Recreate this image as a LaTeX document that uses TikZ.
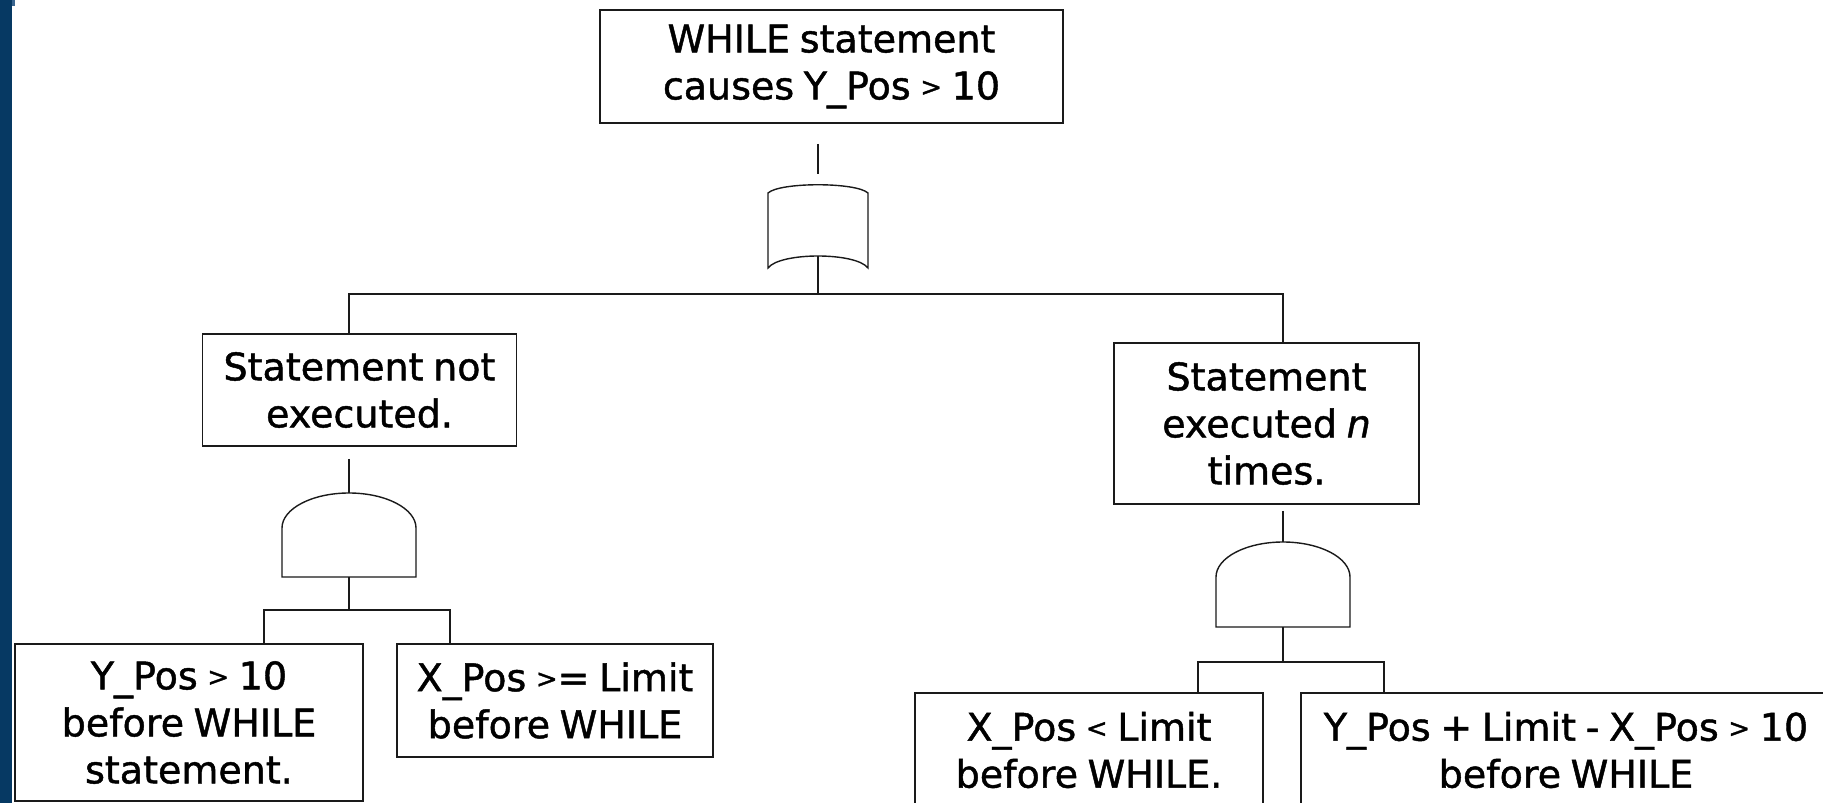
\documentclass[tikz,border=0pt]{standalone}
\usepackage{fontspec}
\setmainfont{DejaVu Sans}[WordSpace=0.8,FakeBold=1.2]
\definecolor{stripblue}{HTML}{063963}
\definecolor{notchblue}{HTML}{3A6690}
\definecolor{ink}{HTML}{1A1A1A}
% small comparison signs, kept on the math axis
\newcommand{\relgt}{\raisebox{3.5pt}{\fontsize{26}{26}\selectfont>}}
\newcommand{\rellt}{\raisebox{3.5pt}{\fontsize{26}{26}\selectfont<}}
\begin{document}
\begin{tikzpicture}[x=1pt,y=-1pt,
  event/.style={draw=ink,line width=1.7pt,fill=white,inner sep=0pt,
    align=center,font=\fontsize{38}{47}\selectfont,text=black},
  link/.style={draw=ink,line width=1.5pt},
  gate/.style={draw=ink,line width=1.4pt,fill=white}]
\useasboundingbox (0,0) rectangle (1823,803);
\clip (0,0) rectangle (1823,803);
\fill[white] (0,0) rectangle (1823,803);
% left border strip
\fill[stripblue] (0,0) rectangle (12,803);
\fill[notchblue] (12,0) rectangle (15,6);

% events
\node[event,minimum width=463,minimum height=113] (top) at (831.5,66.5)
  {WHILE statement\\causes Y\_Pos \relgt{} 10};
\node[event,minimum width=314,minimum height=112] (lmid) at (359.5,390)
  {Statement not\\executed.};
\node[event,minimum width=305,minimum height=161] (rmid) at (1266.5,423.5)
  {Statement\\executed \textit{n}\\times.};
\node[event,minimum width=348,minimum height=157] (b1) at (189,722.5)
  {Y\_Pos \relgt{} 10\\before WHILE\\statement.};
\node[event,minimum width=316,minimum height=113] (b2) at (555,700.5)
  {X\_Pos \relgt{}= Limit\\before WHILE};
\node[event,minimum width=348,minimum height=114] (b3) at (1089,750)
  {X\_Pos \rellt{} Limit\\before WHILE.};
\node[event,minimum width=530,minimum height=114] (b4) at (1566,750)
  {Y\_Pos + Limit - X\_Pos \relgt{} 10\\before WHILE};

% gate anchors
\coordinate (orTop) at (818,184);
\coordinate (orBot) at (818,256);
\coordinate (andL) at (349,493);
\coordinate (andLb) at (349,577);
\coordinate (andR) at (1283,542);
\coordinate (andRb) at (1283,627);
% bus junctions and drop points
\coordinate (busTop) at (818,294);
\coordinate (busL) at (349,610);
\coordinate (busR) at (1283,662);
\coordinate (dropB1) at (264,0);
\coordinate (dropB2) at (450,0);
\coordinate (dropB3) at (1198,0);
\coordinate (dropB4) at (1384,0);

% OR gate
\draw[gate] (768,268) -- (768,193)
  .. controls (780,182) and (856,182) .. (868,193) -- (868,268)
  .. controls (856,252) and (780,252) .. cycle;
% AND gates
\draw[gate] (282,577) -- (282,528)
  .. controls (282,508.7) and (312,493) .. (andL)
  .. controls (386,493) and (416,508.7) .. (416,528) -- (416,577) -- cycle;
\draw[gate] (1216,627) -- (1216,577)
  .. controls (1216,557.7) and (1246,542) .. (andR)
  .. controls (1320,542) and (1350,557.7) .. (1350,577) -- (1350,627) -- cycle;

% connectors
\draw[link] (top.south -| orTop) ++(0,20) -- ++(0,30);
\draw[link] (orBot) -- (busTop);
\draw[link] (busTop) -| (lmid.north -| andL);
\draw[link] (busTop) -| (rmid.north -| andR);
\draw[link] (lmid.south -| andL) ++(0,12) -- (andL);
\draw[link] (rmid.south -| andR) ++(0,6) -- (andR);
\draw[link] (andLb) -- (busL);
\draw[link] (busL) -| (b1.north -| dropB1);
\draw[link] (busL) -| (b2.north -| dropB2);
\draw[link] (andRb) -- (busR);
\draw[link] (busR) -| (b3.north -| dropB3);
\draw[link] (busR) -| (b4.north -| dropB4);
\end{tikzpicture}
\end{document}
